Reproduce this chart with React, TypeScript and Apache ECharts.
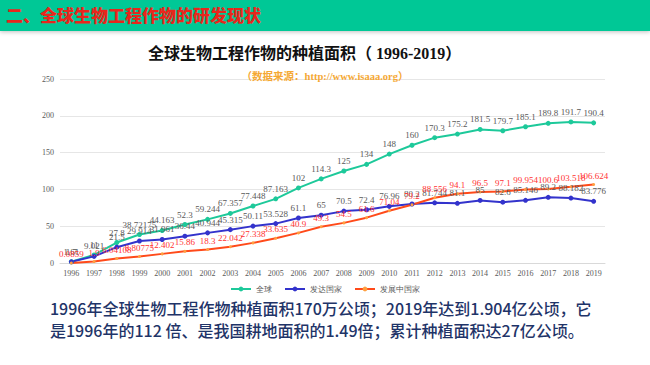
import React, { useEffect, useRef } from "react";
import * as echarts from "echarts";

const years = ["1996","1997","1998","1999","2000","2001","2002","2003","2004","2005","2006","2007","2008","2009","2010","2011","2012","2013","2014","2015","2016","2017","2018","2019"];
const globalArea = [1.7, 11, 27.8, 38.72175, 44.163, 52.3, 59.244, 67.357, 77.448, 87.163, 102, 114.3, 125, 134, 148, 160, 170.3, 175.2, 181.5, 179.7, 185.1, 189.8, 191.7, 190.4];
const developedArea = [1.61, 9.021, 21.5, 29.914, 31.961, 36.44, 40.944, 45.315, 50.11, 53.528, 61.1, 65, 70.5, 72.4, 76.96, 80.2, 81.744, 81.1, 85, 82.6, 85.146, 89.2, 88.182, 83.776];
const developingArea = [0.0859, 1.9, 6.04108, 8.80775, 12.402, 15.86, 18.3, 22.042, 27.338, 33.635, 40.9, 49.3, 54.5, 61.6, 71.04, 79.2, 88.556, 94.1, 96.5, 97.1, 99.954, 100.6, 103.518, 106.624];
const seriesNames = ["全球", "发达国家", "发展中国家"];
const yTicks = { min: 0, max: 250, interval: 50 };

export default function App() {
  const ref = useRef<HTMLDivElement>(null);
  useEffect(() => {
    document.body.style.margin = "0";
    const chart = echarts.init(ref.current!, null, { renderer: "svg" });
    const labelGray = { show: true, position: "top", color: "#595959", fontSize: 9, fontFamily: "Liberation Serif, serif", distance: 3 };
    chart.setOption({
      animation: false,
      backgroundColor: "#ffffff",
      graphic: [
        { type: "rect", left: 0, top: 0, shape: { width: 650, height: 31 }, style: { fill: "#00C896", shadowBlur: 4, shadowColor: "rgba(0,0,0,0.25)", shadowOffsetY: 1 } },
        { type: "text", left: 6, top: 6, style: { text: "二、全球生物工程作物的研发现状", fill: "#E8261C", font: "900 17px 'Noto Sans CJK SC', sans-serif" } },
        { type: "text", left: 50, top: 300, style: { text: "1996年全球生物工程作物种植面积170万公顷；2019年达到1.904亿公顷，它", fill: "#1F3468", font: "500 16px 'Noto Sans CJK SC', sans-serif" } },
        { type: "text", left: 50, top: 322, style: { text: "是1996年的112 倍、是我国耕地面积的1.49倍；累计种植面积达27亿公顷。", fill: "#1F3468", font: "500 16px 'Noto Sans CJK SC', sans-serif" } },
      ],
      title: [
        {
          text: "全球生物工程作物的种植面积（ 1996-2019）",
          left: 143,
          top: 40,
          textStyle: { fontSize: 16, fontWeight: "bold", color: "#111", fontFamily: "Liberation Serif, 'Noto Sans CJK SC', serif" },
        },
        {
          text: "（数据来源：http://www.isaaa.org）",
          left: "center",
          top: 66,
          textStyle: { fontSize: 10.5, fontWeight: "bold", color: "#F5A833", fontFamily: "Liberation Serif, 'Noto Sans CJK SC', serif" },
        },
      ],
      legend: {
        data: seriesNames,
        top: 280,
        left: "center",
        itemWidth: 20,
        itemHeight: 6,
        itemGap: 12,
        textStyle: { fontSize: 8, color: "#595959", fontFamily: "Liberation Serif, serif" },
      },
      grid: { left: 60, right: 45, top: 79, bottom: 102 },
      xAxis: {
        type: "category",
        data: years,
        boundaryGap: true,
        axisLine: { lineStyle: { color: "#D9D9D9" } },
        axisTick: { show: false },
        axisLabel: { fontSize: 8, color: "#595959", fontFamily: "Liberation Serif, serif", margin: 6, interval: 0 },
      },
      yAxis: {
        type: "value",
        min: yTicks.min,
        max: yTicks.max,
        interval: yTicks.interval,
        axisLine: { show: false },
        axisTick: { show: false },
        splitLine: { lineStyle: { color: "#E6E6E6", width: 1.2 } },
        axisLabel: { fontSize: 8, color: "#595959", fontFamily: "Liberation Serif, serif", margin: 6 },
      },
      series: [
        {
          name: seriesNames[0], type: "line", data: globalArea,
          symbol: "circle", symbolSize: 5,
          lineStyle: { color: "#1DC99A", width: 2 }, itemStyle: { color: "#1DC99A" },
          label: labelGray,
        },
        {
          name: seriesNames[1], type: "line", data: developedArea,
          symbol: "circle", symbolSize: 5,
          lineStyle: { color: "#3333CC", width: 2 }, itemStyle: { color: "#3333CC" },
          label: labelGray,
        },
        {
          name: seriesNames[2], type: "line", data: developingArea,
          symbol: "circle", symbolSize: 3,
          lineStyle: { color: "#FF4A1A", width: 2 }, itemStyle: { color: "#FFA040", borderWidth: 0 },
          label: { ...labelGray, color: "#FF3333" },
        },
      ],
    });
    return () => chart.dispose();
  }, []);
  return <div ref={ref} style={{ position: "absolute", left: 0, top: 0, width: 650, height: 365 }} />;
}
